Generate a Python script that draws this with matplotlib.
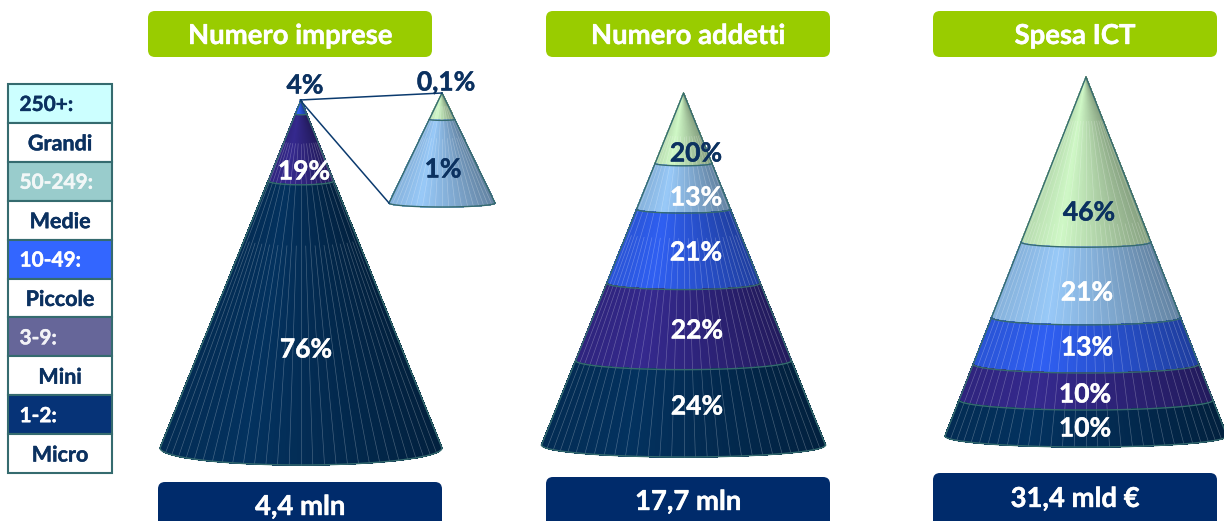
import numpy as np
import matplotlib
matplotlib.use("Agg")
import matplotlib.pyplot as plt
from matplotlib.collections import PolyCollection
from matplotlib.patches import FancyBboxPatch, Rectangle
from matplotlib.colors import to_rgb
import matplotlib.patheffects as pe

plt.rcParams["font.family"] = ["Lato", "DejaVu Sans"]

titles = ["Numero imprese", "Numero addetti", "Spesa ICT"]
totals = ["4,4 mln", "17,7 mln", "31,4 mld €"]

# quote dall'alto verso il basso
imprese_shares = [4, 19, 76]
imprese_labels = ["4%", "19%", "76%"]
zoom_shares = [24, 76]  # altezze disegnate, non in scala con le etichette
zoom_labels = ["0,1%", "1%"]
addetti_shares = [20, 13, 21, 22, 24]
addetti_labels = ["20%", "13%", "21%", "22%", "24%"]
spesa_shares = [46, 21, 13, 10, 10]
spesa_labels = ["46%", "21%", "13%", "10%", "10%"]

legend_ranges = ["250+:", "50-249:", "10-49:", "3-9:", "1-2:"]
legend_names = ["Grandi", "Medie", "Piccole", "Mini", "Micro"]
legend_colors = ["#ccffff", "#99cccc", "#3366ff", "#666699", "#063377"]
legend_text = ["#0b3160", "#f2f7f7", "white", "#f2f2f7", "white"]

green = "#cff8c6"
light_blue = "#98c9f8"
blue = "#2f5ff2"
purple = "#35298e"
navy = "#03325f"
band_colors = [green, light_blue, blue, purple, navy]

title_green = "#99cc00"
box_navy = "#002b6b"
dark_text = "#0b3160"
edge_teal = "#356b6f"


def shade(u):
    # piu chiaro a sinistra del centro, scuro a destra
    return np.interp(u, [-1, -0.4, 1], [0.88, 1.0, 0.66])


def bold_text(x, y, s, color, size, ha="center"):
    # Lato bold e' un po' piu sottile dell'originale
    ax.text(x, y, s, color=color, fontsize=size, fontweight="bold", ha=ha, va="center", zorder=6,
            path_effects=[pe.withStroke(linewidth=0.3, foreground=color)])


def draw_cone(ax, cx, apex_y, half_w, drop, sag, shares, colors, n=90, n_lines=30):
    cum = np.cumsum([0] + shares) / sum(shares)
    thetas = np.arccos(-np.linspace(-1, 1, n + 1))

    def point(t, th):
        return cx - half_w * t * np.cos(th), apex_y + t * drop + sag * t * np.sin(th)

    for i, col in enumerate(colors):
        t0, t1 = cum[i], cum[i + 1]
        polys, faces = [], []
        rgb = np.array(to_rgb(col))
        for a, b in zip(thetas[:-1], thetas[1:]):
            polys.append([point(t0, a), point(t0, b), point(t1, b), point(t1, a)])
            faces.append(tuple(rgb * shade(-np.cos((a + b) / 2))))
        ax.add_collection(PolyCollection(polys, facecolors=faces, edgecolors=faces, linewidths=0.5,
                                         antialiased=False, zorder=2))

    # righe chiare lungo la superficie, meno fitte ai lati di un coseno puro
    v = np.linspace(-1, 1, n_lines + 1)[1:-1]
    th_lines = np.arccos(-(0.55 * v + 0.45 * np.sin(v * np.pi / 2)))
    for k, th in enumerate(th_lines):
        # verso la punta si tiene una riga su due
        x0, y0 = point(0.12 if k % 2 == 0 else 0.4, th)
        x1, y1 = point(1, th)
        ax.plot([x0, x1], [y0, y1], color="white", lw=0.45, alpha=0.28, zorder=3)

    # bordi delle fasce e contorno
    th = np.linspace(0, np.pi, 80)
    for t in cum[1:]:
        x, y = point(t, th)
        ax.plot(x, y, color=edge_teal, lw=1.0, zorder=4)
    xl, yl = point(1, 0)
    xr, yr = point(1, np.pi)
    ax.plot([xl, cx, xr], [yl, apex_y, yr], color=edge_teal, lw=1.0, zorder=4)


fig = plt.figure(figsize=(12.24, 5.21), dpi=100)
ax = fig.add_axes([0, 0, 1, 1])
ax.set_xlim(0, 1224)
ax.set_ylim(521, 0)
ax.axis("off")

# titoli e totali
title_x = [148, 546, 933]
total_x = [158, 546, 933]
total_y = [482, 477, 473]
total_text_y = [507, 502, 499]
for i in range(3):
    ax.add_patch(FancyBboxPatch((title_x[i] + 6, 17), 272, 34, boxstyle="round,pad=6,rounding_size=7",
                                fc=title_green, ec="none", zorder=1))
    bold_text(title_x[i] + 142, 36, titles[i], "white", 19.8)
    ax.add_patch(FancyBboxPatch((total_x[i] + 6, total_y[i] + 6), 272, 48, boxstyle="round,pad=6,rounding_size=7",
                                fc=box_navy, ec="none", zorder=1))
    bold_text(total_x[i] + 142, total_text_y[i], totals[i], "white", 19.8)

# legenda
row_h = 38.9
for i in range(5):
    y = 84 + i * 2 * row_h
    ax.add_patch(Rectangle((8, y), 104, row_h, fc=legend_colors[i], ec=edge_teal, lw=1.5, zorder=1))
    ax.add_patch(Rectangle((8, y + row_h), 104, row_h, fc="white", ec=edge_teal, lw=1.5, zorder=1))
    bold_text(19.5, y + row_h / 2 + 1.5, legend_ranges[i], legend_text[i], 15, ha="left")
    bold_text(60, y + 1.5 * row_h + 1.5, legend_names[i], dark_text, 15.5)

# coni
draw_cone(ax, 301, 100, 141, 348, 17, imprese_shares, [blue, purple, navy])
draw_cone(ax, 442, 93, 53, 110, 4, zoom_shares, [green, light_blue], n_lines=20)
draw_cone(ax, 683.5, 93, 142, 352, 12, addetti_shares, band_colors)
draw_cone(ax, 1086, 77, 141, 359, 11, spesa_shares, band_colors)

# collegamento tra cono grande e cono piccolo
ax.plot([389, 300, 442], [203, 100, 93], color="#0b3a6e", lw=1.1, zorder=5)


def put_labels(labels, xs, ys, colors):
    for s, x, y, c in zip(labels, xs, ys, colors):
        bold_text(x, y, s, c, 19)


put_labels(imprese_labels, [305, 304, 306], [85.5, 171.5, 349.5], [dark_text, "white", "white"])
put_labels(zoom_labels, [446, 443], [82.5, 169.5], [dark_text, dark_text])
put_labels(addetti_labels, [696, 696, 696, 697, 697], [153.5, 197.5, 252.5, 330.5, 406.5],
           [dark_text, "white", "white", "white", "white"])
put_labels(spesa_labels, [1089, 1087, 1087, 1085, 1085], [212.5, 292.5, 347.5, 394.5, 428.5],
           [dark_text, "white", "white", "white", "white"])

fig.savefig("out.png", dpi=100)
